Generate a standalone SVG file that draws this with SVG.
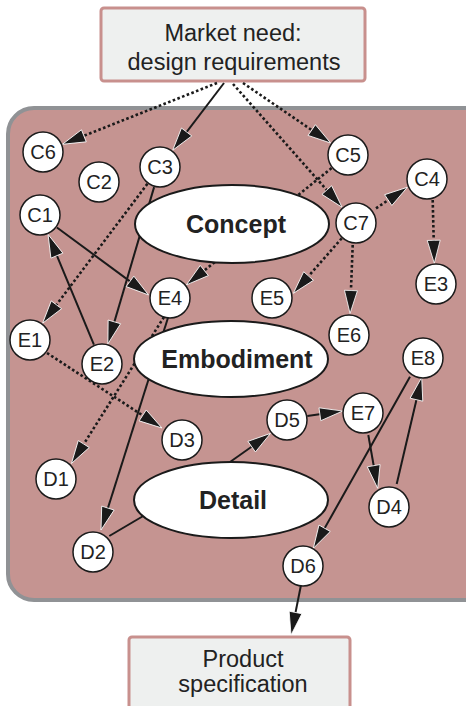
<svg xmlns="http://www.w3.org/2000/svg" width="466" height="706" viewBox="0 0 466 706">
<defs>
<marker id="ah" markerUnits="userSpaceOnUse" markerWidth="26" markerHeight="16" refX="19" refY="7" orient="auto" overflow="visible">
<path d="M0,0.5 L23,7 L0,13.5 Z" fill="#1a1a1a" stroke="#ffffff" stroke-width="0.8" stroke-linejoin="miter"/>
</marker>
<style>
.box{fill:#eef0ef;stroke:#c8908d;stroke-width:3}
.panel{fill:#c59491;stroke:#909295;stroke-width:4}
.nd circle{fill:#fff;stroke:#1a1a1a;stroke-width:1.5}
.nd text{font-family:"Liberation Sans",Arial,sans-serif;font-size:20px;fill:#222;text-anchor:middle}
.ph ellipse{fill:#fff;stroke:#1a1a1a;stroke-width:2}
.ph text{font-family:"Liberation Sans",Arial,sans-serif;font-size:25px;font-weight:bold;fill:#222;text-anchor:middle}
.bt{font-family:"Liberation Sans",Arial,sans-serif;font-size:23.5px;fill:#222;text-anchor:middle}
.s{stroke:#1a1a1a;stroke-width:2;fill:none}
.d{stroke:#1a1a1a;stroke-width:2.6;stroke-dasharray:2.6 2.4;fill:none}
.a{marker-end:url(#ah)}
</style>
</defs>
<rect class="panel" x="8" y="108" width="490" height="492" rx="26"/>
<g id="market">
<rect class="box" x="101" y="8" width="264" height="73" rx="3"/>
<text class="bt" x="233" y="41">Market need:</text>
<text class="bt" x="234" y="70">design requirements</text>
</g>
<g id="product">
<rect class="box" x="129" y="637" width="221" height="80" rx="3"/>
<text class="bt" x="243" y="667">Product</text>
<text class="bt" x="243" y="692">specification</text>
</g>
<g id="connectors">
<line class="d a" x1="217" y1="83" x2="66.2" y2="142.8"/>
<line class="s a" x1="224" y1="83" x2="175.1" y2="147.1"/>
<line class="d a" x1="243" y1="83" x2="327.4" y2="140.8"/>
<line class="d a" x1="233" y1="84" x2="339.4" y2="204.3"/>
<line class="d a" x1="331.6" y1="168.1" x2="189.5" y2="282.4"/>
<line class="d a" x1="147.4" y1="183.8" x2="45" y2="320"/>
<line class="s a" x1="154.1" y1="187.1" x2="109" y2="340.1"/>
<line class="s a" x1="56.9" y1="227.5" x2="145.3" y2="292.6"/>
<line class="s a" x1="93.9" y1="344.6" x2="49.6" y2="238.1"/>
<line class="d a" x1="164" y1="317" x2="73.6" y2="460.1"/>
<line class="s a" x1="168.3" y1="316.7" x2="102.2" y2="526.2"/>
<line class="d a" x1="47" y1="353" x2="158.6" y2="425.8"/>
<line class="d a" x1="376" y1="208.3" x2="404" y2="189.5"/>
<line class="d a" x1="432.7" y1="200" x2="434.2" y2="259.3"/>
<line class="d a" x1="341.7" y1="238.3" x2="296" y2="290.3"/>
<line class="d a" x1="352.7" y1="245" x2="350.2" y2="309.5"/>
<line class="s a" x1="230" y1="462" x2="267.2" y2="435.7"/>
<line class="s a" x1="307.3" y1="416" x2="338.7" y2="411.6"/>
<line class="s a" x1="368.3" y1="435" x2="377" y2="484.4"/>
<line class="s a" x1="396.7" y1="484" x2="420.8" y2="381.2"/>
<line class="s a" x1="410" y1="376.7" x2="315.3" y2="544.8"/>
<line class="s a" x1="301" y1="585" x2="291.8" y2="631.1"/>
<line class="s" x1="109.3" y1="536" x2="150" y2="512"/>
</g>
<g id="concept" class="ph"><ellipse cx="232" cy="224" rx="97" ry="39"/><text x="236" y="233">Concept</text></g>
<g id="embodiment" class="ph"><ellipse cx="231" cy="359" rx="97" ry="38"/><text x="237" y="368">Embodiment</text></g>
<g id="detail" class="ph"><ellipse cx="231" cy="500" rx="97" ry="38"/><text x="233" y="509">Detail</text></g>
<g id="C6" class="nd"><circle cx="43" cy="152" r="20"/><text x="43" y="159">C6</text></g>
<g id="C2" class="nd"><circle cx="99" cy="182" r="20"/><text x="99" y="189">C2</text></g>
<g id="C3" class="nd"><circle cx="160" cy="167" r="20"/><text x="160" y="174">C3</text></g>
<g id="C1" class="nd"><circle cx="40" cy="215" r="20"/><text x="40" y="222">C1</text></g>
<g id="C5" class="nd"><circle cx="348" cy="155" r="20"/><text x="348" y="162">C5</text></g>
<g id="C4" class="nd"><circle cx="427" cy="179" r="20"/><text x="427" y="186">C4</text></g>
<g id="C7" class="nd"><circle cx="356" cy="223" r="20"/><text x="356" y="230">C7</text></g>
<g id="E3" class="nd"><circle cx="436" cy="284" r="20"/><text x="436" y="291">E3</text></g>
<g id="E4" class="nd"><circle cx="170" cy="298" r="20"/><text x="170" y="305">E4</text></g>
<g id="E5" class="nd"><circle cx="272" cy="298" r="20"/><text x="272" y="305">E5</text></g>
<g id="E6" class="nd"><circle cx="349" cy="335" r="20"/><text x="349" y="342">E6</text></g>
<g id="E1" class="nd"><circle cx="30" cy="340" r="20"/><text x="30" y="347">E1</text></g>
<g id="E2" class="nd"><circle cx="102" cy="364" r="20"/><text x="102" y="371">E2</text></g>
<g id="E8" class="nd"><circle cx="423" cy="358" r="20"/><text x="423" y="365">E8</text></g>
<g id="E7" class="nd"><circle cx="363" cy="413" r="20"/><text x="363" y="420">E7</text></g>
<g id="D5" class="nd"><circle cx="287" cy="420" r="20"/><text x="287" y="427">D5</text></g>
<g id="D3" class="nd"><circle cx="182" cy="440" r="20"/><text x="182" y="447">D3</text></g>
<g id="D1" class="nd"><circle cx="56" cy="479" r="20"/><text x="56" y="486">D1</text></g>
<g id="D4" class="nd"><circle cx="389" cy="507" r="20"/><text x="389" y="514">D4</text></g>
<g id="D2" class="nd"><circle cx="93" cy="552" r="20"/><text x="93" y="559">D2</text></g>
<g id="D6" class="nd"><circle cx="303" cy="566" r="20"/><text x="303" y="573">D6</text></g>
</svg>
